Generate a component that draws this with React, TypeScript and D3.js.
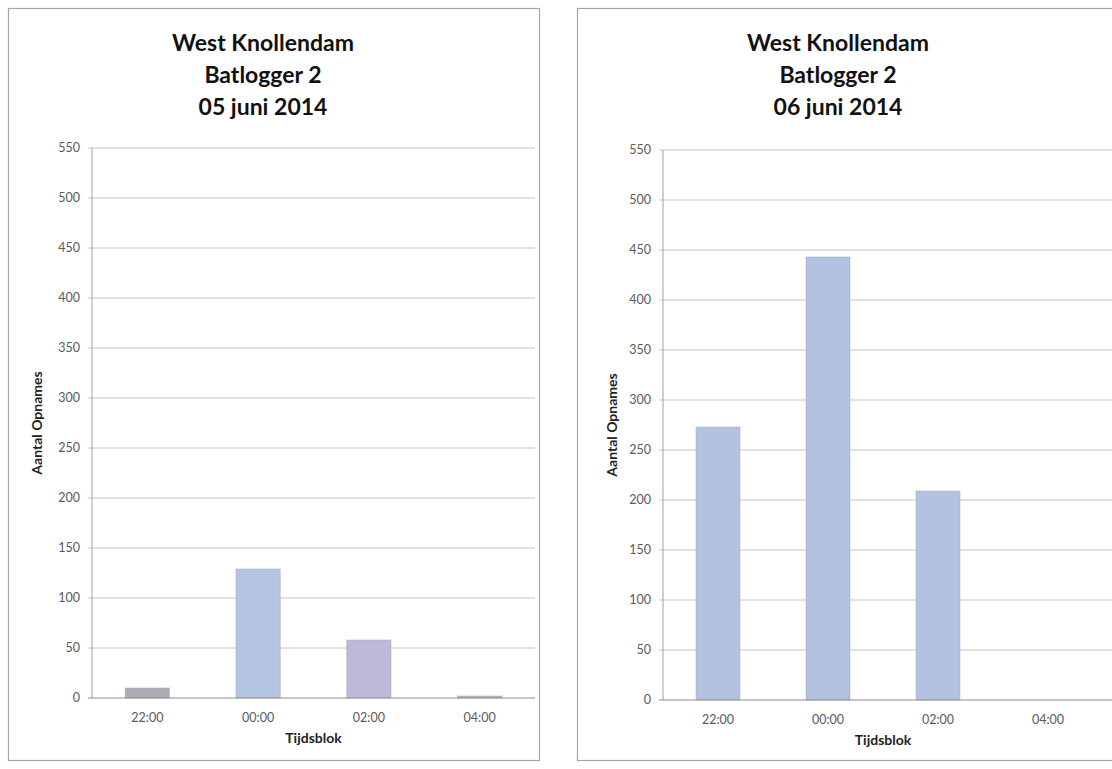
import React from "react";
import * as d3 from "d3";

const categories = ["22:00", "00:00", "02:00", "04:00"];
const values05 = [10, 129, 58, 2];
const values06 = [273, 443, 209, 0];
const yTicks = [0, 50, 100, 150, 200, 250, 300, 350, 400, 450, 500, 550];
const titles05 = ["West Knollendam", "Batlogger 2", "05 juni 2014"];
const titles06 = ["West Knollendam", "Batlogger 2", "06 juni 2014"];
const xTitle = "Tijdsblok";
const yTitle = "Aantal Opnames";

const colors05 = ["#acacb4", "#b5c4e1", "#bdb9d8", "#b4b4ba"];
const colors06 = ["#b3c2e1", "#b3c2e1", "#b3c2e1", "#b3c2e1"];

const FONT = "Lato, 'Open Sans', sans-serif";

type ChartProps = {
  box: { x: number; y: number; w: number; h: number };
  plot: { x0: number; x1: number; top: number; bottom: number; gridEnd: number };
  values: number[];
  colors: string[];
  titles: string[];
  titleX: number;
  yTitleX: number;
};

function Chart({ box, plot, values, colors, titles, titleX, yTitleX }: ChartProps) {
  const x = d3.scaleBand<string>().domain(categories).range([plot.x0, plot.x1]).paddingInner(0.6).paddingOuter(0.3);
  const xc = d3.scaleBand<string>().domain(categories).range([plot.x0, plot.x1]);
  const y = d3.scaleLinear().domain([0, 550]).range([plot.bottom, plot.top]);
  return (
    <g>
      <rect x={box.x + 0.5} y={box.y + 0.5} width={box.w} height={box.h} fill="#fff" stroke="#a6a6a6" strokeWidth={1.2} />
      {titles.map((t, i) => (
        <text key={i} x={titleX} y={51 + i * 32} textAnchor="middle" fontFamily={FONT} fontWeight={700} fontSize={23} fill="#111">
          {t}
        </text>
      ))}
      {yTicks.map((t) => (
        <g key={t}>
          {t > 0 && (
            <line x1={plot.x0 - 4} x2={plot.gridEnd} y1={y(t)} y2={y(t)} stroke="#c4c4c4" strokeWidth={1} />
          )}
          <text x={plot.x0 - 12} y={y(t) + 4} textAnchor="end" fontFamily={FONT} fontSize={12.5} fill="#5a5a5a">
            {t}
          </text>
        </g>
      ))}
      <line x1={plot.x0} x2={plot.x0} y1={plot.top} y2={plot.bottom} stroke="#a0a0a0" strokeWidth={1} />
      {categories.map((c, i) => (
        <rect
          key={c}
          x={x(c)}
          y={y(values[i])}
          width={x.bandwidth()}
          height={plot.bottom - y(values[i])}
          fill={colors[i]}
          stroke="#a3abbf"
          strokeOpacity={0.5}
          strokeWidth={1}
        />
      ))}
      <line x1={plot.x0 - 4} x2={plot.gridEnd} y1={plot.bottom} y2={plot.bottom} stroke="#8c8c8c" strokeWidth={1} />
      {categories.map((c) => (
        <text key={c} x={(xc(c) ?? 0) + xc.bandwidth() / 2} y={plot.bottom + 24} textAnchor="middle" fontFamily={FONT} fontSize={12.5} fill="#5a5a5a">
          {c}
        </text>
      ))}
      <text x={(plot.x0 + plot.x1) / 2} y={plot.bottom + 45} textAnchor="middle" fontFamily={FONT} fontWeight={700} fontSize={14} fill="#222">
        {xTitle}
      </text>
      <text
        transform={`translate(${yTitleX},${plot.top + 275}) rotate(-90)`}
        textAnchor="middle"
        fontFamily={FONT}
        fontWeight={700}
        fontSize={14}
        fill="#222"
      >
        {yTitle}
      </text>
    </g>
  );
}

export default function App() {
  return (
    <svg width={1112} height={769} style={{ position: "absolute", left: 0, top: 0, background: "#fff" }}>
      <rect x={0} y={0} width={1112} height={769} fill="#fff" />
      <Chart
        box={{ x: 8, y: 8, w: 531, h: 752 }}
        plot={{ x0: 92, x1: 535, top: 148, bottom: 698, gridEnd: 535 }}
        values={values05}
        colors={colors05}
        titles={titles05}
        titleX={263}
        yTitleX={42}
      />
      <Chart
        box={{ x: 577, y: 8, w: 545, h: 752 }}
        plot={{ x0: 663, x1: 1103, top: 150, bottom: 700, gridEnd: 1112 }}
        values={values06}
        colors={colors06}
        titles={titles06}
        titleX={838}
        yTitleX={617}
      />
    </svg>
  );
}
